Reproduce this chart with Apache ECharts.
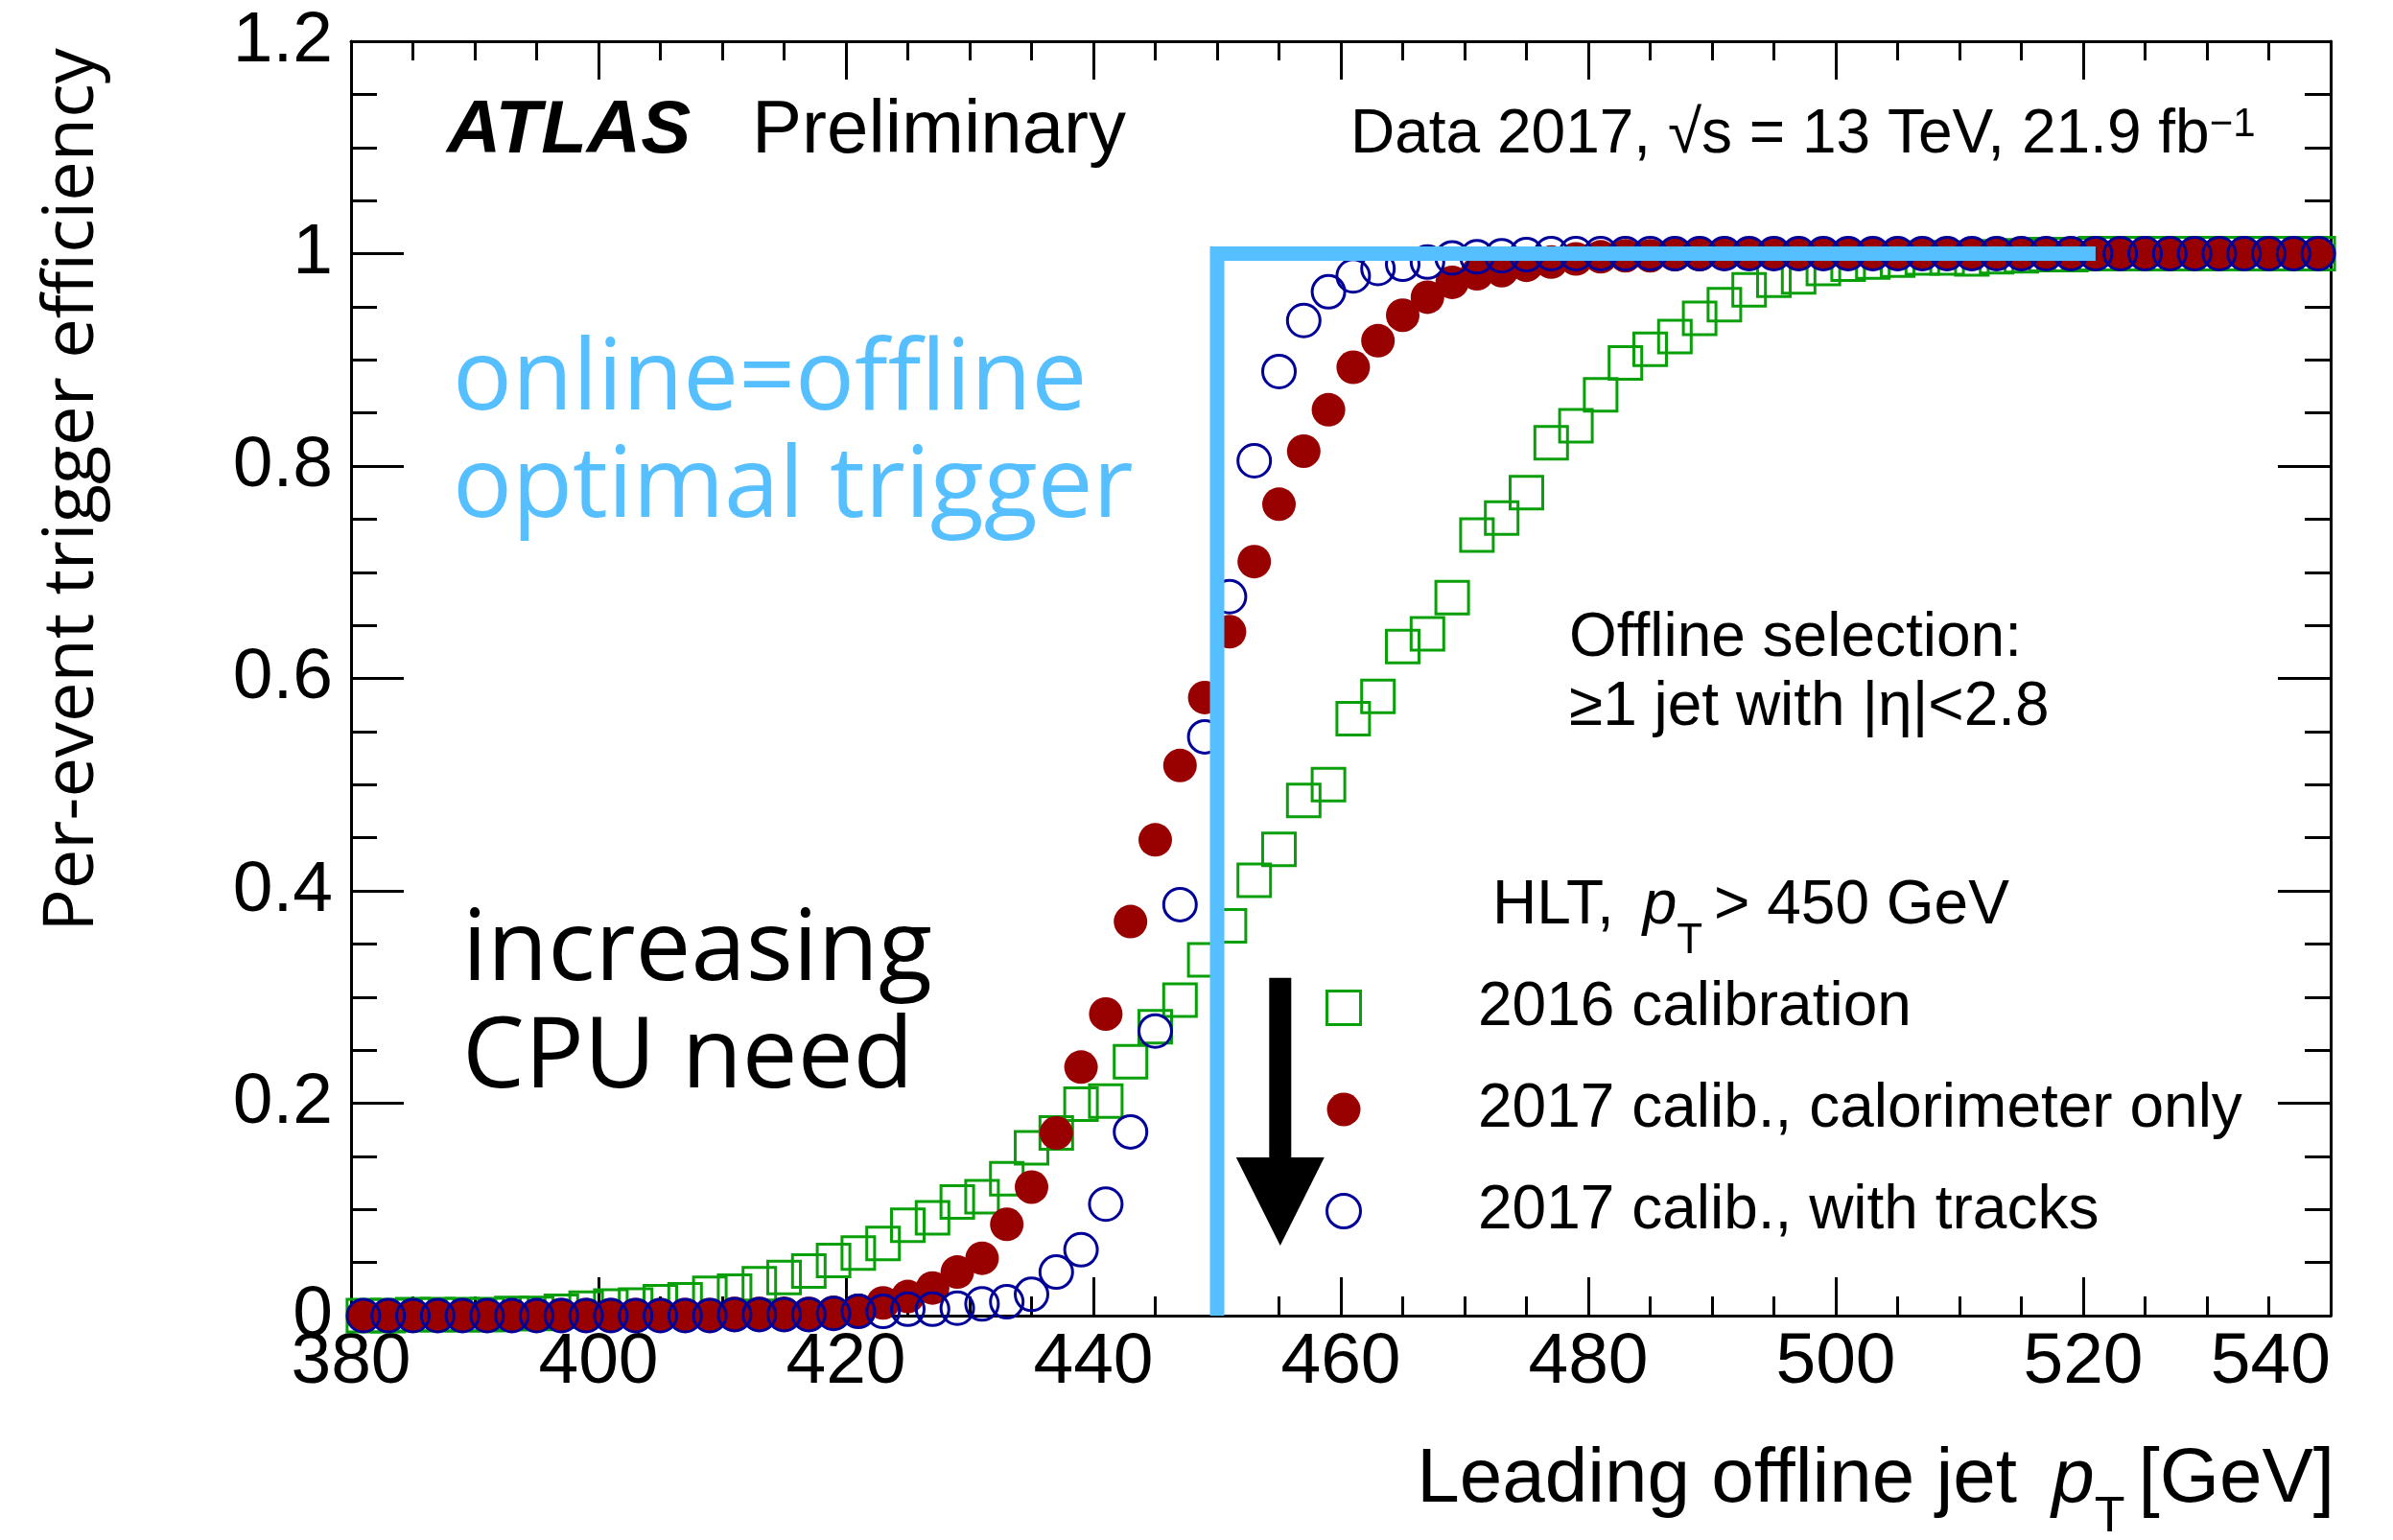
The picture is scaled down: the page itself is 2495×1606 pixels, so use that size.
<!DOCTYPE html>
<html>
<head>
<meta charset="utf-8">
<title>Per-event trigger efficiency</title>
<script src="https://cdn.jsdelivr.net/npm/echarts@6/dist/echarts.min.js"></script>
<style>
  html, body { margin: 0; padding: 0; background: #fff; }
  #chart { width: 2495px; height: 1606px; }
</style>
</head>
<body>
<div id="chart"></div>
<script>
// leading offline jet pT bin centres [GeV]
const ptBins = [
  381, 383, 385, 387, 389, 391, 393, 395, 397, 399,
  401, 403, 405, 407, 409, 411, 413, 415, 417, 419,
  421, 423, 425, 427, 429, 431, 433, 435, 437, 439,
  441, 443, 445, 447, 449, 451, 453, 455, 457, 459,
  461, 463, 465, 467, 469, 471, 473, 475, 477, 479,
  481, 483, 485, 487, 489, 491, 493, 495, 497, 499,
  501, 503, 505, 507, 509, 511, 513, 515, 517, 519,
  521, 523, 525, 527, 529, 531, 533, 535, 537, 539
]

// per-event trigger efficiency, one value per bin
const calib2016 = [
  0.000, 0.000, 0.001, 0.001, 0.001, 0.001, 0.002, 0.002, 0.004, 0.007,
  0.009, 0.010, 0.013, 0.015, 0.021, 0.023, 0.030, 0.036, 0.042, 0.052,
  0.059, 0.068, 0.085, 0.092, 0.107, 0.112, 0.129, 0.158, 0.172, 0.199,
  0.202, 0.239, 0.272, 0.297, 0.335, 0.367, 0.410, 0.439, 0.485, 0.500,
  0.562, 0.583, 0.630, 0.642, 0.676, 0.735, 0.751, 0.775, 0.822, 0.838,
  0.867, 0.897, 0.910, 0.922, 0.939, 0.952, 0.966, 0.975, 0.978, 0.986,
  0.990, 0.992, 0.994, 0.996, 0.996, 0.995, 0.997, 0.998, 0.999, 0.999,
  1.000, 1.000, 1.000, 1.000, 1.000, 1.000, 1.000, 1.000, 1.000, 1.000
]
const calo2017 = [
  0.000, 0.000, 0.000, 0.000, 0.000, 0.000, 0.000, 0.000, 0.001, 0.001,
  0.001, 0.001, 0.001, 0.001, 0.001, 0.002, 0.002, 0.002, 0.002, 0.003,
  0.005, 0.012, 0.018, 0.026, 0.041, 0.054, 0.086, 0.121, 0.172, 0.234,
  0.284, 0.371, 0.448, 0.518, 0.582, 0.644, 0.710, 0.764, 0.814, 0.853,
  0.893, 0.918, 0.942, 0.959, 0.973, 0.981, 0.984, 0.989, 0.992, 0.995,
  0.997, 0.998, 0.998, 0.999, 0.999, 1.000, 1.000, 1.000, 1.000, 1.000,
  1.000, 1.000, 1.000, 1.000, 1.000, 1.000, 1.000, 1.000, 1.000, 1.000,
  1.000, 1.000, 1.000, 1.000, 1.000, 1.000, 1.000, 1.000, 1.000, 1.000
]
const tracks2017 = [
  0.000, 0.000, 0.000, 0.000, 0.000, 0.000, 0.000, 0.000, 0.000, 0.000,
  0.000, 0.000, 0.000, 0.000, 0.000, 0.001, 0.001, 0.001, 0.001, 0.002,
  0.004, 0.004, 0.006, 0.006, 0.007, 0.011, 0.013, 0.020, 0.041, 0.062,
  0.105, 0.173, 0.268, 0.387, 0.545, 0.677, 0.805, 0.889, 0.937, 0.964,
  0.979, 0.986, 0.990, 0.992, 0.996, 0.997, 0.998, 0.999, 1.000, 1.000,
  1.000, 1.000, 1.000, 1.000, 1.000, 1.000, 1.000, 1.000, 1.000, 1.000,
  1.000, 1.000, 1.000, 1.000, 1.000, 1.000, 1.000, 1.000, 1.000, 1.000,
  1.000, 1.000, 1.000, 1.000, 1.000, 1.000, 1.000, 1.000, 1.000, 1.000
]

// ideal "online = offline" step at the 450 GeV threshold
const optimalPt = [450, 450, 521]
const optimalEff = [0, 1, 1]

const seriesNames = ['2016 calibration', '2017 calib., calorimeter only', '2017 calib., with tracks']
const xTicks = [380, 400, 420, 440, 460, 480, 500, 520, 540]
const yTicks = [0, 0.2, 0.4, 0.6, 0.8, 1, 1.2]

// arrow: pT position, start and end efficiency
const arrowPt = 455.1
const arrowFrom = 0.318
const arrowTo = 0.066

const SANS = "'Liberation Sans', Arial, Helvetica, sans-serif"
const ROUND = "'Open Sans', 'Noto Sans', sans-serif"
const GREEN = '#089f08'
const RED = '#990000'
const BLUE = '#000099'
const SKY = '#55bfff'

const pairs = (ys) => ptBins.map((x, i) => [x, ys[i]])

const axisCommon = {
  type: 'value',
  axisLine: { show: true, onZero: false, lineStyle: { color: '#000', width: 3 } },
  splitLine: { show: false },
  minorSplitLine: { show: false }
}

function xAxis(position, showLabel) {
  return Object.assign({}, axisCommon, {
    position: position,
    min: xTicks[0],
    max: xTicks[xTicks.length - 1],
    interval: xTicks[1] - xTicks[0],
    axisTick: { show: true, inside: true, length: 40, lineStyle: { color: '#000', width: 3 } },
    minorTick: { show: true, splitNumber: 4, length: 20, lineStyle: { color: '#000', width: 3 } },
    axisLabel: {
      show: showLabel, fontSize: 75, fontFamily: SANS, color: '#000', margin: 12,
      showMinLabel: true, showMaxLabel: true, alignMaxLabel: 'right'
    }
  })
}

function yAxis(position, showLabel) {
  return Object.assign({}, axisCommon, {
    position: position,
    min: yTicks[0],
    max: yTicks[yTicks.length - 1],
    interval: yTicks[1] - yTicks[0],
    axisTick: { show: true, inside: true, length: 55, lineStyle: { color: '#000', width: 3 } },
    minorTick: { show: true, splitNumber: 4, length: 27, lineStyle: { color: '#000', width: 3 } },
    axisLabel: {
      show: showLabel, fontSize: 75, fontFamily: SANS, color: '#000', margin: 19,
      showMinLabel: true, showMaxLabel: true
    }
  })
}

// plain text placed by its baseline
function txt(x, base, text, size, family, extra) {
  const k = family === ROUND ? 0.245 : 0.27
  return {
    type: 'text', x: x, y: base - k * size, z: 20,
    style: Object.assign({
      text: text, fontSize: size, fontFamily: family, fill: '#000',
      align: 'left', verticalAlign: 'middle'
    }, extra || {})
  }
}

// rich text placed by the top of its first line
function rich(x, top, text, richStyles, align) {
  return {
    type: 'text', x: x, y: top, z: 20,
    style: { text: text, rich: richStyles, align: align || 'left', verticalAlign: 'top', fill: '#000' }
  }
}

const chart = echarts.init(document.getElementById('chart'))

const option = {
  animation: false,
  backgroundColor: '#fff',
  grid: { left: 366, right: 65, top: 43, bottom: 234, containLabel: false, outerBoundsMode: 'none' },
  xAxis: [xAxis('bottom', true), xAxis('top', false)],
  yAxis: [yAxis('left', true), yAxis('right', false)],
  legend: {
    left: 1382, top: 1019, orient: 'vertical', padding: 0,
    itemGap: 42, itemWidth: 270, itemHeight: 35,
    selectedMode: false,
    textStyle: { fontSize: 64, fontFamily: SANS, color: '#000', lineHeight: 64 },
    data: [
      { name: seriesNames[0], icon: 'path://M0,0L34,0L34,34L0,34Z', itemStyle: { borderWidth: 3, opacity: 1 } },
      { name: seriesNames[1], icon: 'circle', itemStyle: { opacity: 1 } },
      { name: seriesNames[2], icon: 'circle', itemStyle: { borderWidth: 3, opacity: 1 } }
    ]
  },
  series: [
    {
      name: seriesNames[0], type: 'scatter', data: pairs(calib2016),
      symbol: 'rect', symbolSize: 34, z: 2,
      itemStyle: { color: 'rgba(0,0,0,0)', borderColor: GREEN, borderWidth: 3, opacity: 1 }
    },
    {
      name: seriesNames[1], type: 'scatter', data: pairs(calo2017),
      symbol: 'circle', symbolSize: 35, z: 3,
      itemStyle: { color: RED, opacity: 1 }
    },
    {
      name: seriesNames[2], type: 'scatter', data: pairs(tracks2017),
      symbol: 'circle', symbolSize: 34, z: 4,
      itemStyle: { color: 'rgba(0,0,0,0)', borderColor: BLUE, borderWidth: 3, opacity: 1 }
    },
    {
      name: 'optimal', type: 'line', data: optimalPt.map((x, i) => [x, optimalEff[i]]),
      symbol: 'none', z: 5, clip: false,
      lineStyle: { color: SKY, width: 15, join: 'miter', opacity: 1 }
    }
  ]
}

chart.setOption(option)

// annotations
const tip = chart.convertToPixel({ xAxisIndex: 0, yAxisIndex: 0 }, [arrowPt, arrowTo])
const tail = chart.convertToPixel({ xAxisIndex: 0, yAxisIndex: 0 }, [arrowPt, arrowFrom])
const headLen = 92, headHalf = 46, shaftHalf = 11.5
const ax = tip[0]
const arrowPoints = [
  [ax - shaftHalf, tail[1]], [ax + shaftHalf, tail[1]],
  [ax + shaftHalf, tip[1] - headLen], [ax + headHalf, tip[1] - headLen],
  [ax, tip[1]],
  [ax - headHalf, tip[1] - headLen], [ax - shaftHalf, tip[1] - headLen]
]

const subRich = (main, sub, subPad, gap) => ({
  a: { fontSize: main, lineHeight: main, fontFamily: SANS, color: '#000', verticalAlign: 'top' },
  i: { fontSize: main, lineHeight: main, fontFamily: SANS, fontStyle: 'italic', color: '#000', verticalAlign: 'top', padding: [0, 0, 0, gap] },
  s: { fontSize: sub, lineHeight: sub, fontFamily: SANS, color: '#000', verticalAlign: 'top', padding: [subPad, gap, 0, 0] },
  u: { fontSize: sub, lineHeight: sub, fontFamily: SANS, color: '#000', verticalAlign: 'top' }
})

chart.setOption({
  graphic: [
    txt(466, 159, 'ATLAS', 78, SANS, { fontWeight: 'bold', fontStyle: 'italic' }),
    txt(784, 159, 'Preliminary', 78, SANS),
    rich(1408, 159 - 50, '{a|Data 2017, √s = 13 TeV, 21.9 fb}{u|−1}', subRich(64, 42, 0, 0)),
    txt(472, 423, 'online=offline', 103, ROUND, { fill: SKY }),
    txt(472, 535, 'optimal trigger', 103, ROUND, { fill: SKY }),
    txt(482, 1018, 'increasing', 103, ROUND),
    txt(482, 1130, 'CPU need', 103, ROUND),
    txt(1636, 684, 'Offline selection:', 64, SANS),
    txt(1636, 756, '≥1 jet with |η|<2.8', 64, SANS),
    rich(1556, 963 - 50, '{a|HLT, }{i|p}{s|T}{a|> 450 GeV}', subRich(64, 44, 47, 12)),
    rich(2434, 1567 - 63, '{a|Leading offline jet }{i|p}{s|T}{a|[GeV]}', subRich(80, 52, 53, 14), 'right'),
    {
      type: 'text', x: 76, y: 511, rotation: Math.PI / 2, z: 20,
      style: {
        text: 'Per-event trigger efficiency', fontSize: 74, fontFamily: ROUND, fill: '#000',
        align: 'center', verticalAlign: 'middle'
      }
    },
    {
      type: 'polygon', z: 20,
      shape: { points: arrowPoints },
      style: { fill: '#000' }
    }
  ]
})
</script>
</body>
</html>
